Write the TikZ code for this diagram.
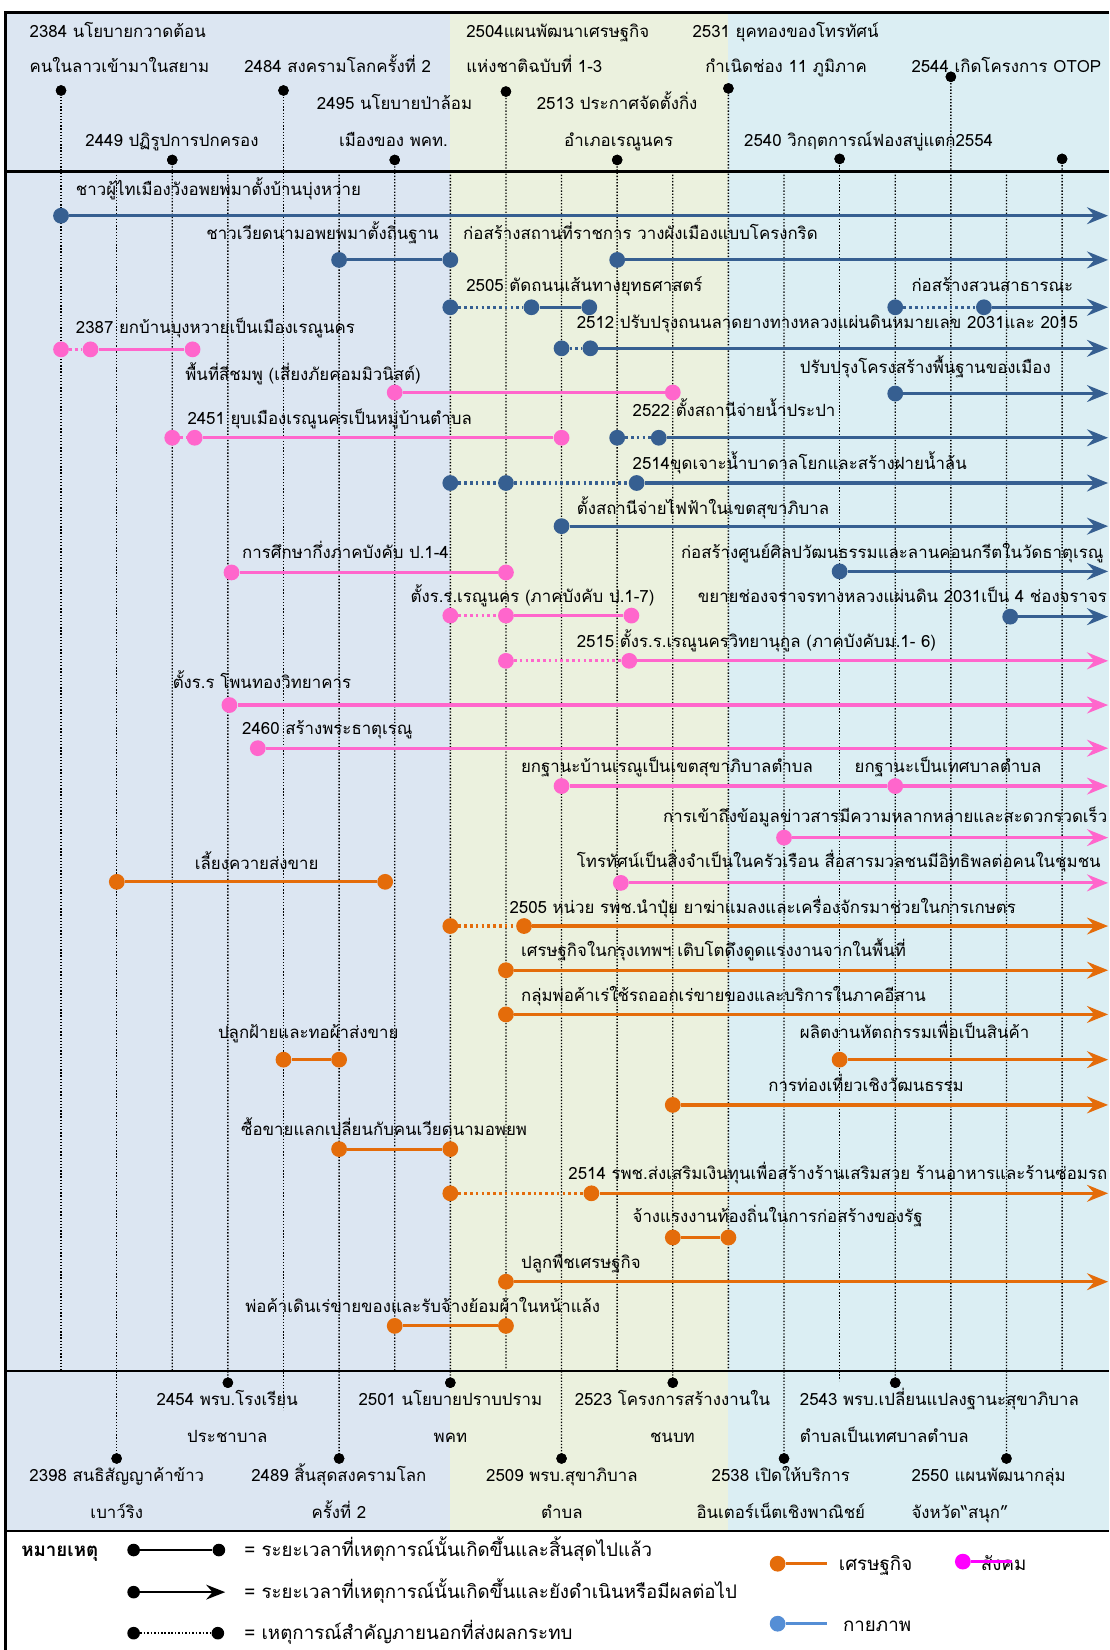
\documentclass[tikz,border=0pt]{standalone}
\usepackage{fontspec}
\setmainfont[Script=Thai]{Loma}
\usetikzlibrary{arrows.meta}
\definecolor{cblue}{RGB}{54,95,145}
\definecolor{cpink}{RGB}{255,102,204}
\definecolor{corange}{RGB}{228,108,10}
\definecolor{bgA}{RGB}{220,230,242}
\definecolor{bgB}{RGB}{235,241,222}
\definecolor{bgC}{RGB}{219,238,243}
\definecolor{lgblue}{RGB}{85,142,213}
\definecolor{lgmag}{RGB}{255,0,255}
\newcommand\lblfont{\fontsize{16}{19}\selectfont}
\newcommand\lgfont{\fontsize{17.8}{21}\selectfont}
\begin{document}
\begin{tikzpicture}[x=1pt,y=-1pt,
  lbl/.style={anchor=base west,inner sep=0pt,font=\lblfont},
  clbl/.style={anchor=base,inner sep=0pt,font=\lblfont},
  lglbl/.style={anchor=base west,inner sep=0pt,font=\lgfont},
  ev/.style={circle,inner sep=0pt,minimum size=15pt,fill=#1},
  hd/.style={circle,inner sep=0pt,minimum size=10pt,fill=black},
  gridln/.style={black,line width=1.3pt,dash pattern=on 1.3pt off 1.7pt},
  con/.style={#1,line width=3pt},
  dcon/.style={#1,line width=3pt,dash pattern=on 2.5pt off 3pt},
  acon/.style={#1,line width=3pt,-{Stealth[length=20pt,width=16pt,inset=7pt]}},
  framel/.style={black,line width=2.5pt},
]
\useasboundingbox (0,0) rectangle (1054,1568);
% ---------- backgrounds ----------
\fill[bgA] (5,12) rectangle (428,1455);
\fill[bgB] (428,12) rectangle (692,1455);
\fill[bgC] (692,12) rectangle (1054,1455);
% ---------- header texts ----------
\node[lbl] (H1) at (28,36) {2384 นโยบายกวาดต้อน};
\node[lbl] (H2) at (28,69) {คนในลาวเข้ามาในสยาม};
\node[lbl] (H3) at (232,69) {2484 สงครามโลกครั้งที่ 2};
\node[lbl] (H4) at (443,36) {2504แผนพัฒนาเศรษฐกิจ};
\node[lbl] (H5) at (443,69) {แห่งชาติฉบับที่ 1-3};
\node[lbl] (H6) at (658,36) {2531 ยุคทองของโทรทัศน์};
\node[lbl] (H7) at (670,69) {กำเนิดช่อง 11 ภูมิภาค};
\node[lbl] (H8) at (866,69) {2544 เกิดโครงการ OTOP};
\node[lbl] (H9) at (301,104) {2495 นโยบายป่าล้อม};
\node[lbl] (H10) at (510,104) {2513 ประกาศจัดตั้งกิ่ง};
\node[lbl] (H11) at (81,139) {2449 ปฏิรูปการปกครอง};
\node[lbl] (H12) at (322,139) {เมืองของ พคท.};
\node[lbl] (H13) at (536,139) {อำเภอเรณูนคร};
\node[lbl] (H14) at (707,139) {2540 วิกฤตการณ์ฟองสบู่แตก2554};
% ---------- body labels ----------
\node[lbl] (L1) at (72,186) {ชาวผู้ไทเมืองวังอพยพมาตั้งบ้านบุ่งหวาย};
\node[lbl] (L2) at (196,228) {ชาวเวียดนามอพยพมาตั้งถิ่นฐาน};
\node[lbl] (L3) at (440,228) {ก่อสร้างสถานที่ราชการ วางผังเมืองแบบโครงกริด};
\node[lbl] (L4) at (443,277) {2505 ตัดถนนเส้นทางยุทธศาสตร์};
\node[lbl] (L5) at (866,277) {ก่อสร้างสวนสาธารณะ};
\node[lbl] (L6) at (72,317) {2387 ยกบ้านบุงหวายเป็นเมืองเรณูนคร};
\node[lbl] (L7) at (548,312) {2512 ปรับปรุงถนนลาดยางทางหลวงแผ่นดินหมายเลข 2031และ 2015};
\node[lbl] (L8) at (176,362) {พื้นที่สีชมพู (เสี่ยงภัยคอมมิวนิสต์)};
\node[lbl] (L9) at (760,355) {ปรับปรุงโครงสร้างพื้นฐานของเมือง};
\node[lbl] (L10) at (178,403) {2451 ยุบเมืองเรณูนครเป็นหมู่บ้านตำบล};
\node[lbl] (L11) at (601,396) {2522 ตั้งสถานีจ่ายน้ำประปา};
\node[lbl] (L12) at (601,446) {2514ขุดเจาะน้ำบาดาลโยกและสร้างฝายน้ำล้น};
\node[lbl] (L13) at (548,489) {ตั้งสถานีจ่ายไฟฟ้าในเขตสุขาภิบาล};
\node[lbl] (L14) at (230,531) {การศึกษากึ่งภาคบังคับ ป.1-4};
\node[lbl] (L15) at (647,531) {ก่อสร้างศูนย์ศิลปวัฒนธรรมและลานคอนกรีตในวัดธาตุเรณู};
\node[lbl] (L16) at (390,573) {ตั้งร.ร.เรณูนคร (ภาคบังคับ ป.1-7)};
\node[lbl] (L17) at (663,573) {ขยายช่องจราจรทางหลวงแผ่นดิน 2031เป็น 4 ช่องจราจร};
\node[lbl] (L18) at (548,615) {2515 ตั้งร.ร.เรณูนครวิทยานุกูล (ภาคบังคับม.1- 6)};
\node[lbl] (L19) at (164,654) {ตั้งร.ร โพนทองวิทยาคาร};
\node[lbl] (L20) at (230,698) {2460 สร้างพระธาตุเรณู};
\node[lbl] (L21) at (495,734) {ยกฐานะบ้านเรณูเป็นเขตสุขาภิบาลตำบล};
\node[lbl] (L22) at (812,734) {ยกฐานะเป็นเทศบาลตำบล};
\node[lbl] (L23) at (630,782) {การเข้าถึงข้อมูลข่าวสารมีความหลากหลายและสะดวกรวดเร็ว};
\node[lbl] (L24) at (185,826) {เลี้ยงควายส่งขาย};
\node[lbl] (L25) at (548,824) {โทรทัศน์เป็นสิ่งจำเป็นในครัวเรือน สื่อสารมวลชนมีอิทธิพลต่อคนในชุมชน};
\node[lbl] (L26) at (484,868) {2505 หน่วย รพช.นำปุ๋ย ยาฆ่าแมลงและเครื่องจักรมาช่วยในการเกษตร};
\node[lbl] (L27) at (495,909) {เศรษฐกิจในกรุงเทพฯ เติบโตดึงดูดแรงงานจากในพื้นที่};
\node[lbl] (L28) at (495,952) {กลุ่มพ่อค้าเร่ใช้รถออกเร่ขายของและบริการในภาคอีสาน};
\node[lbl] (L29) at (207,987) {ปลูกฝ้ายและทอผ้าส่งขาย};
\node[lbl] (L30) at (760,987) {ผลิตงานหัตถกรรมเพื่อเป็นสินค้า};
\node[lbl] (L31) at (730,1037) {การท่องเที่ยวเชิงวัฒนธรรม};
\node[lbl] (L32) at (229,1079) {ซื้อขายแลกเปลี่ยนกับคนเวียดนามอพยพ};
\node[lbl] (L33) at (540,1121) {2514 รพช.ส่งเสริมเงินทุนเพื่อสร้างร้านเสริมสวย ร้านอาหารและร้านซ่อมรถ};
\node[lbl] (L34) at (601,1162) {จ้างแรงงานท้องถิ่นในการก่อสร้างของรัฐ};
\node[lbl] (L35) at (495,1205) {ปลูกพืชเศรษฐกิจ};
\node[lbl] (L36) at (233,1247) {พ่อค้าเดินเร่ขายของและรับจ้างย้อมผ้าในหน้าแล้ง};
% ---------- bottom timeline texts ----------
\node[clbl] (B1) at (216,1336) {2454 พรบ.โรงเรียน};
\node[clbl] (B2) at (216,1371) {ประชาบาล};
\node[clbl] (B3) at (428,1336) {2501 นโยบายปราบปราม};
\node[clbl] (B4) at (428,1371) {พคท};
\node[clbl] (B5) at (639,1336) {2523 โครงการสร้างงานใน};
\node[clbl] (B6) at (639,1371) {ชนบท};
\node[lbl] (B7) at (760,1336) {2543 พรบ.เปลี่ยนแปลงฐานะสุขาภิบาล};
\node[lbl] (B8) at (760,1371) {ตำบลเป็นเทศบาลตำบล};
\node[clbl] (B9) at (111,1408) {2398 สนธิสัญญาค้าข้าว};
\node[clbl] (B10) at (111,1443) {เบาว์ริง};
\node[clbl] (B11) at (322,1408) {2489 สิ้นสุดสงครามโลก};
\node[clbl] (B12) at (322,1443) {ครั้งที่ 2};
\node[clbl] (B13) at (534,1408) {2509 พรบ.สุขาภิบาล};
\node[clbl] (B14) at (534,1443) {ตำบล};
\node[clbl] (B15) at (742,1408) {2538 เปิดให้บริการ};
\node[clbl] (B16) at (742,1443) {อินเตอร์เน็ตเชิงพาณิชย์};
\node[lbl] (B17) at (866,1408) {2550 แผนพัฒนากลุ่ม};
\node[lbl] (B18) at (866,1443) {จังหวัด“สนุก”};
% ---------- grid ----------
\foreach \k in {0,...,18}{
  \pgfmathsetmacro\gx{58+52.85*\k}
  \coordinate (gt\k) at (\gx,163);
  \coordinate (gb\k) at (\gx,1303);
}
\coordinate (gx4) at (269.4,1340);
\coordinate (gx14) at (797.9,1312);
% header dots
\node[hd] (h0) at (58,86) {};
\node[hd] (h4) at (269.4,86) {};
\node[hd] (h8) at (480.8,87) {};
\node[hd] (h12) at (692.2,84) {};
\node[hd] (h16) at (903.6,73) {};
\node[hd] (h2) at (163.7,152) {};
\node[hd] (h6) at (375.1,152) {};
\node[hd] (h10) at (586.5,152) {};
\node[hd] (h14) at (797.9,151) {};
\node[hd] (h18) at (1009.3,151) {};
% bottom dots
\node[hd] (b3) at (216.55,1314) {};
\node[hd] (b7) at (427.95,1314) {};
\node[hd] (b11) at (639.35,1314) {};
\node[hd] (b15) at (850.75,1314) {};
\node[hd] (b1) at (110.85,1386) {};
\node[hd] (b5) at (322.25,1386) {};
\node[hd] (b9) at (533.65,1386) {};
\node[hd] (b13) at (745.05,1386) {};
\node[hd] (b17) at (956.45,1386) {};
\foreach \k in {0,2,6,8,10,12,16,18}{\draw[gridln] (h\k.center) -- (gb\k);}
\draw[gridln] (h4.center) -- (gx4);
\draw[gridln] (h14.center) -- (gx14);
\foreach \k in {1,3,5,7,9,11,13,15,17}{\draw[gridln] (gt\k) -- (b\k.center);}
\foreach \k in {0,2,4,6,8,10,12,14,16,18}{\node[hd] at (h\k) {};}
\foreach \k in {1,3,5,7,9,11,13,15,17}{\node[hd] at (b\k) {};}
% ---------- frame ----------
\draw[framel] (1054,12) -- (5,12) -- (5,1568);
\draw[framel] (5,163) -- (1054,163);
\draw[framel] (5,1303) -- (1054,1303);
\draw[framel] (5,1455) -- (1054,1455);
% ---------- event nodes ----------
\foreach \n/\x/\y/\c in {
 r1a/58/205/cblue, r2a/322.25/247/cblue, r2b/427.95/247/cblue, r2c/586.5/247/cblue,
 r3a/427.95/292/cblue, r3b/505/292/cblue, r3c/560/292/cblue, r3d/850.75/292/cblue, r3e/935/292/cblue,
 r4a/58/332/cpink, r4b/86/332/cpink, r4c/183/332/cpink, r4d/533.65/331/cblue, r4e/561/331/cblue,
 r5a/375.1/373/cpink, r5b/639.35/373/cpink, r5c/850.75/374/cblue,
 r6a/163.7/416/cpink, r6b/185/416/cpink, r6c/533.65/416/cpink, r6d/586.5/416/cblue, r6e/626/416/cblue,
 r7a/427.95/459/cblue, r7b/480.8/459/cblue, r7c/605/459/cblue,
 r8a/533.65/500/cblue,
 r9a/220/544/cpink, r9b/480.8/544/cpink, r9c/797.9/543/cblue,
 r10a/427.95/585/cpink, r10b/480.8/585/cpink, r10c/600/585/cpink, r10d/960/586/cblue,
 r11a/480.8/628/cpink, r11b/598/628/cpink,
 r12a/218/670/cpink, r13a/245/711/cpink,
 r14a/533.65/747/cpink, r14b/850.75/747/cpink,
 r15a/745.05/796/cpink,
 r16a/111/838/corange, r16b/366/838/corange, r16c/590/839/cpink,
 r17a/427.95/880/corange, r17b/498/880/corange,
 r18a/480.8/922/corange, r19a/480.8/964/corange,
 r20a/269.4/1007/corange, r20b/322.25/1007/corange, r20c/797.9/1007/corange,
 r21a/639.35/1050/corange,
 r22a/322.25/1092/corange, r22b/427.95/1092/corange,
 r23a/427.95/1134/corange, r23b/562/1134/corange,
 r24a/639.35/1176/corange, r24b/692.2/1176/corange,
 r25a/480.8/1218/corange,
 r26a/375.1/1260/corange, r26b/480.8/1260/corange}{
  \node[ev=\c] (\n) at (\x,\y) {};
}
% arrow end coordinates
\foreach \n/\y in {1/205,2/247,3/292,4/331,5/374,6/416,7/459,8/500,9/543,10/586,11/628,12/670,13/711,14/747,15/796,16/839,17/880,18/922,19/964,20/1007,21/1050,23/1134,25/1218}{
  \coordinate (e\n) at (1053,\y);
}
% ---------- connectors ----------
\draw[acon=cblue] (r1a) -- (e1);
\draw[con=cblue] (r2a) -- (r2b);
\draw[acon=cblue] (r2c) -- (e2);
\draw[dcon=cblue] (r3a) -- (r3b);
\draw[con=cblue] (r3b) -- (r3c);
\draw[dcon=cblue] (r3d) -- (r3e);
\draw[acon=cblue] (r3e) -- (e3);
\draw[dcon=cpink] (r4a) -- (r4b);
\draw[con=cpink] (r4b) -- (r4c);
\draw[dcon=cblue] (r4d) -- (r4e);
\draw[acon=cblue] (r4e) -- (e4);
\draw[con=cpink] (r5a) -- (r5b);
\draw[acon=cblue] (r5c) -- (e5);
\draw[dcon=cpink] (r6a) -- (r6b);
\draw[con=cpink] (r6b) -- (r6c);
\draw[dcon=cblue] (r6d) -- (r6e);
\draw[acon=cblue] (r6e) -- (e6);
\draw[dcon=cblue] (r7a) -- (r7b);
\draw[dcon=cblue] (r7b) -- (r7c);
\draw[acon=cblue] (r7c) -- (e7);
\draw[acon=cblue] (r8a) -- (e8);
\draw[con=cpink] (r9a) -- (r9b);
\draw[acon=cblue] (r9c) -- (e9);
\draw[dcon=cpink] (r10a) -- (r10b);
\draw[con=cpink] (r10b) -- (r10c);
\draw[acon=cblue] (r10d) -- (e10);
\draw[dcon=cpink] (r11a) -- (r11b);
\draw[acon=cpink] (r11b) -- (e11);
\draw[acon=cpink] (r12a) -- (e12);
\draw[acon=cpink] (r13a) -- (e13);
\draw[con=cpink] (r14a) -- (r14b);
\draw[acon=cpink] (r14b) -- (e14);
\draw[acon=cpink] (r15a) -- (e15);
\draw[con=corange] (r16a) -- (r16b);
\draw[acon=cpink] (r16c) -- (e16);
\draw[dcon=corange] (r17a) -- (r17b);
\draw[acon=corange] (r17b) -- (e17);
\draw[acon=corange] (r18a) -- (e18);
\draw[acon=corange] (r19a) -- (e19);
\draw[con=corange] (r20a) -- (r20b);
\draw[acon=corange] (r20c) -- (e20);
\draw[acon=corange] (r21a) -- (e21);
\draw[con=corange] (r22a) -- (r22b);
\draw[dcon=corange] (r23a) -- (r23b);
\draw[acon=corange] (r23b) -- (e23);
\draw[con=corange] (r24a) -- (r24b);
\draw[acon=corange] (r25a) -- (e25);
\draw[con=corange] (r26a) -- (r26b);
% ---------- legend ----------
\node[anchor=base west,inner sep=0pt,font=\lgfont\bfseries] (LGt) at (20,1479) {หมายเหตุ};
\node[hd,minimum size=12pt] (lg1a) at (127,1473) {};
\node[hd,minimum size=12pt] (lg1b) at (208,1473) {};
\draw[black,line width=2.5pt] (lg1a) -- (lg1b);
\node[hd,minimum size=12pt] (lg2a) at (127,1513) {};
\coordinate (lg2b) at (214,1513);
\draw[black,line width=2.5pt,-{Stealth[length=18pt,width=14pt,inset=6pt]}] (lg2a) -- (lg2b);
\node[hd,minimum size=12pt] (lg3a) at (127,1552) {};
\node[hd,minimum size=12pt] (lg3b) at (207,1552) {};
\draw[black,line width=1.5pt,dash pattern=on 1.5pt off 1.8pt] (lg3a) -- (lg3b);
\node[lglbl] (LG1) at (232,1479) {= ระยะเวลาที่เหตุการณ์นั้นเกิดขึ้นและสิ้นสุดไปแล้ว};
\node[lglbl] (LG2) at (232,1519) {= ระยะเวลาที่เหตุการณ์นั้นเกิดขึ้นและยังดำเนินหรือมีผลต่อไป};
\node[lglbl] (LG3) at (232,1558) {= เหตุการณ์สำคัญภายนอกที่ส่งผลกระทบ};
\node[ev=corange] (lgo) at (739,1486) {};
\coordinate (lgo2) at (786,1486);
\draw[corange,line width=3pt] (lgo) -- (lgo2);
\node[lglbl] (LG4) at (797,1492) {เศรษฐกิจ};
\node[lglbl] (LG5) at (932,1492) {สังคม};
\node[ev=lgmag] (lgm) at (915,1484) {};
\coordinate (lgm2) at (962,1484);
\draw[lgmag,line width=3pt] (lgm) -- (lgm2);
\node[ev=lgblue] (lgb) at (739,1543) {};
\coordinate (lgb2) at (786,1543);
\draw[lgblue,line width=3pt] (lgb) -- (lgb2);
\node[lglbl] (LG6) at (801,1550) {กายภาพ};
\end{tikzpicture}
\end{document}
